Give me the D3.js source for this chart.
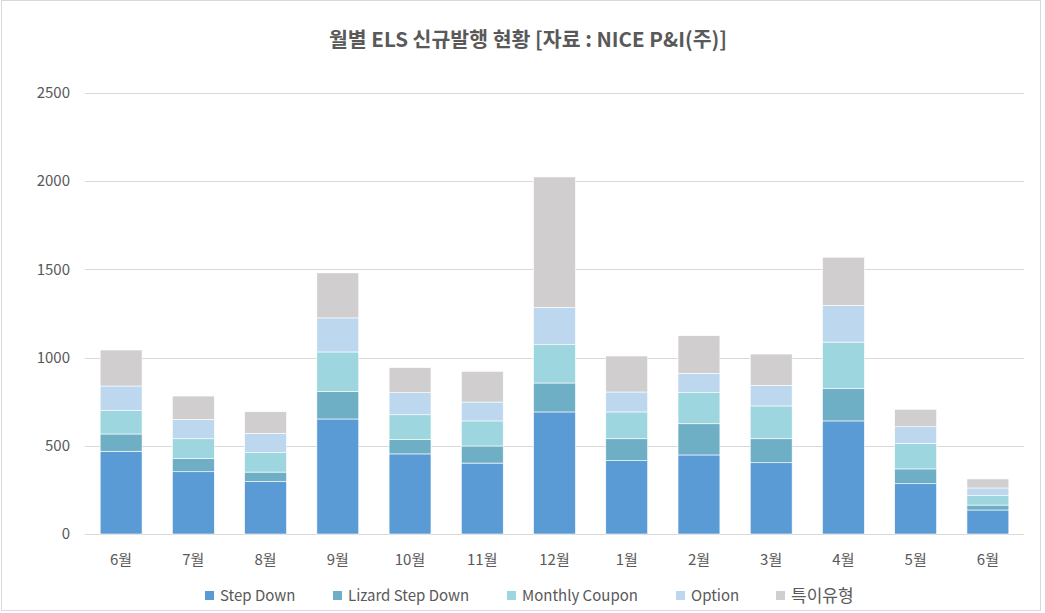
<!DOCTYPE html>
<html>
<head>
<meta charset="utf-8">
<script src="https://d3js.org/d3.v7.min.js"></script>
<style>
  body { margin: 0; background: #fff; }
  text { font-family: "Noto Sans CJK KR", "Noto Sans", sans-serif; fill: #595959; }
</style>
</head>
<body>
<script>
// months (Jun ~ next Jun)
var months = ["6월", "7월", "8월", "9월", "10월", "11월", "12월", "1월", "2월", "3월", "4월", "5월", "6월"];
var seriesNames = ["Step Down", "Lizard Step Down", "Monthly Coupon", "Option", "특이유형"];
var stepDown   = [469, 353, 297, 652, 454, 402, 692, 416, 448, 404, 641, 285, 136];
var lizard     = [98, 74, 54, 155, 83, 97, 164, 124, 177, 136, 183, 84, 28];
var monthly    = [132, 113, 110, 225, 139, 142, 217, 152, 176, 186, 264, 145, 53];
var option     = [140, 110, 110, 193, 125, 107, 212, 113, 110, 117, 208, 94, 44];
var special    = [204, 132, 122, 255, 142, 174, 739, 204, 213, 177, 273, 99, 51];
var yTicks = [0, 500, 1000, 1500, 2000, 2500];
var colors = ["#5b9bd5", "#6fafc6", "#9dd6de", "#bdd7ee", "#d0cece"];

var W = 1045, H = 613;
var margin = {top: 93, right: 21, bottom: 79, left: 85};
var width = W - margin.left - margin.right,
    height = H - margin.top - margin.bottom;

var svg = d3.select("body").append("svg")
    .attr("width", W)
    .attr("height", H);

// chart border
svg.append("rect")
    .attr("x", 1.5).attr("y", 0.5)
    .attr("width", W - 6).attr("height", H - 3)
    .attr("fill", "#fff")
    .attr("stroke", "#d9d9d9");

// title
svg.append("text")
    .attr("x", 528)
    .attr("y", 47)
    .attr("text-anchor", "middle")
    .style("font-size", "20.5px")
    .style("font-weight", "bold")
    .text("월별 ELS 신규발행 현황 [자료 : NICE P&I(주)]");

var g = svg.append("g")
    .attr("transform", "translate(" + margin.left + "," + margin.top + ")");

// build stacked rows
var data = months.map(function(m, i) {
  return {idx: i, month: m, s0: stepDown[i], s1: lizard[i], s2: monthly[i], s3: option[i], s4: special[i]};
});
var keys = ["s0", "s1", "s2", "s3", "s4"];
var stacked = d3.stack().keys(keys)(data);

var x = d3.scaleBand().domain(d3.range(months.length)).range([0, width]).paddingInner(0.42).paddingOuter(0.21);
var y = d3.scaleLinear().domain([0, 2500]).range([height, 0]);

// gridlines
g.append("g").selectAll("line")
    .data(yTicks)
  .enter().append("line")
    .attr("x1", 0).attr("x2", width)
    .attr("y1", function(d) { return Math.round(y(d)) + 0.5; })
    .attr("y2", function(d) { return Math.round(y(d)) + 0.5; })
    .attr("stroke", "#d9d9d9")
    .attr("stroke-width", 1);

// y labels
g.append("g").selectAll("text")
    .data(yTicks)
  .enter().append("text")
    .attr("x", -15)
    .attr("y", function(d) { return y(d); })
    .attr("dy", "0.35em")
    .attr("text-anchor", "end")
    .style("font-size", "15px")
    .text(function(d) { return d; });

// bars
g.selectAll("g.layer")
    .data(stacked)
  .enter().append("g")
    .attr("class", "layer")
    .attr("fill", function(d, i) { return colors[i]; })
  .selectAll("rect")
    .data(function(d) { return d; })
  .enter().append("rect")
    .attr("x", function(d) { return x(d.data.idx); })
    .attr("width", x.bandwidth())
    .attr("y", function(d) { return y(d[1]); })
    .attr("height", function(d) { return y(d[0]) - y(d[1]); })
    .attr("stroke", "#fff")
    .attr("stroke-width", 0.6);

// x labels
g.append("g").selectAll("text")
    .data(data)
  .enter().append("text")
    .attr("x", function(d) { return x(d.idx) + x.bandwidth() / 2; })
    .attr("y", height + 31)
    .attr("text-anchor", "middle")
    .style("font-size", "15px")
    .text(function(d) { return d.month; });

// legend
var legendX = [205, 333, 507, 676, 776];
var legend = svg.append("g").selectAll("g")
    .data(seriesNames)
  .enter().append("g")
    .attr("transform", function(d, i) { return "translate(" + legendX[i] + ",596)"; });
legend.append("rect")
    .attr("x", 0).attr("y", -5)
    .attr("width", 9).attr("height", 9)
    .attr("fill", function(d, i) { return colors[i]; });
legend.append("text")
    .attr("x", 15)
    .attr("y", 0)
    .attr("dy", "0.35em")
    .style("font-size", function(d, i) { return i === 4 ? "17px" : "15px"; })
    .text(function(d) { return d; });
</script>
</body>
</html>
